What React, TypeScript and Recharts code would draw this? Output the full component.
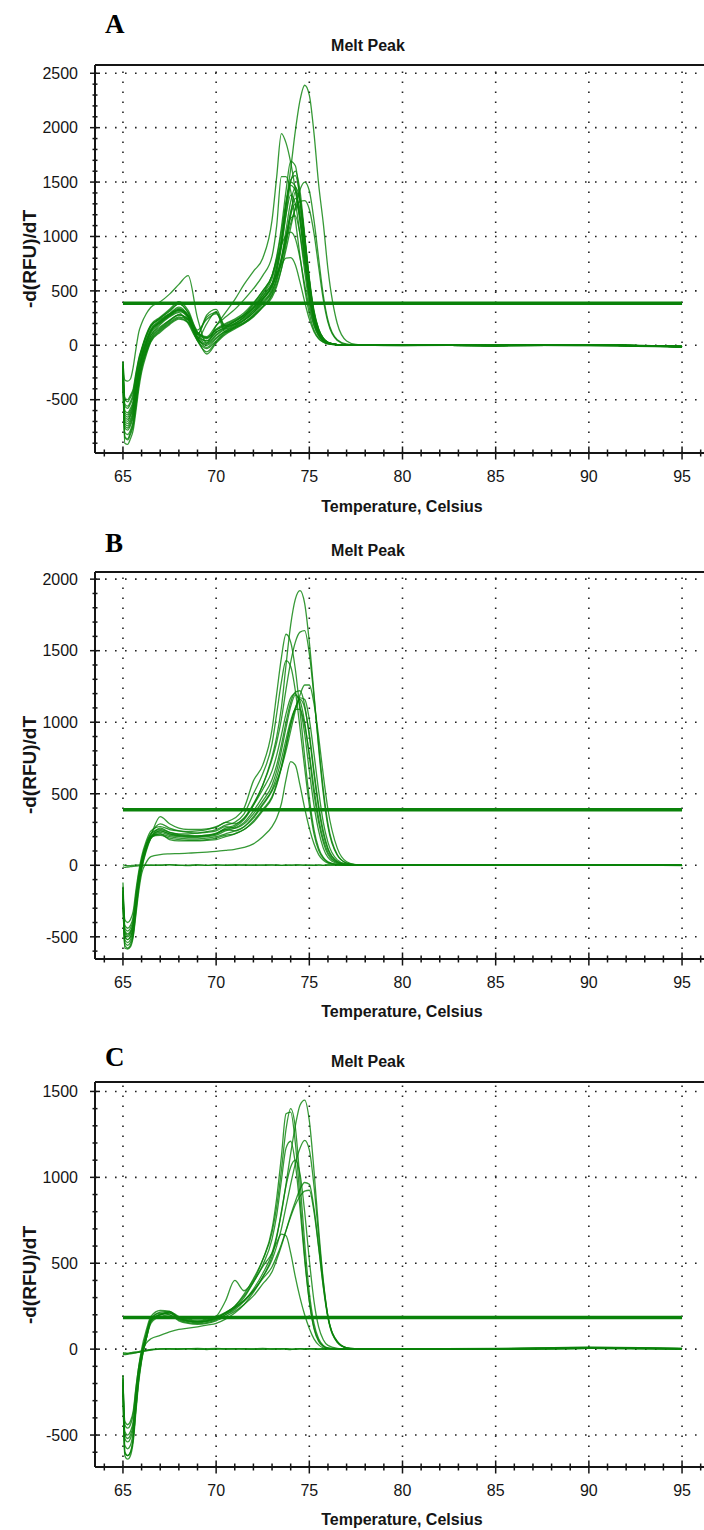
import React from 'react'
import { LineChart, Line, XAxis, YAxis, ReferenceLine } from 'recharts'

// temperature grid (°C) shared by every trace
const temps = [
  65, 65.1, 65.25, 65.4, 65.55, 65.7, 65.85, 66, 66.25, 66.5,
  67, 67.5, 68, 68.5, 69, 69.5, 70, 70.5, 71, 71.5, 72, 72.5,
  73, 73.25, 73.5, 73.75, 74, 74.25, 74.5, 74.75, 75, 75.25, 75.5, 75.75, 76, 76.5, 77, 77.5, 78,
  80, 85, 90, 95,
]

// panel A: -d(RFU)/dT traces
const curvesA = [
  [-150, -320, -330, -310, -200, -30, 120, 200, 290, 350,
    400, 470, 560, 640, 250, 20, 180, 300, 420, 560, 680, 800,
    1150, 1550, 1946, 1860, 1680, 1430, 1140, 800, 460, 240, 110, 50, 22, 6, 2, 0, 1,
    3, -2, 4, -10],
  [-250, -760, -780, -740, -660, -480, -300, -180, -40, 70,
    160, 230, 280, 230, 60, 10, 90, 150, 190, 230, 300, 420,
    560, 720, 930, 1300, 1620, 1970, 2250, 2390, 2300, 1950, 1480, 1120, 700, 200, 40, 8, 2,
    -3, 2, -4, -14],
  [-200, -700, -720, -680, -600, -420, -260, -140, 0, 110,
    200, 270, 320, 270, 100, 40, 120, 170, 220, 280, 370, 480,
    640, 820, 1080, 1420, 1690, 1650, 1330, 900, 520, 260, 120, 55, 25, 6, 2, 0, 0,
    2, -3, 2, -8],
  [-180, -560, -580, -540, -470, -300, -150, -50, 80, 180,
    250, 320, 380, 300, 120, 80, 180, 260, 330, 420, 520, 640,
    820, 1100, 1550, 1550, 1420, 1150, 820, 520, 290, 140, 65, 30, 12, 4, 1, 0, 0,
    1, -2, 3, -12],
  [-280, -850, -870, -820, -740, -560, -360, -220, -70, 40,
    130, 200, 250, 210, 40, -30, 40, 120, 160, 200, 260, 350,
    460, 560, 700, 880, 1080, 1270, 1430, 1500, 1420, 1150, 800, 460, 230, 50, 10, 2, 1,
    -2, 1, -3, -16],
  [-220, -680, -700, -650, -580, -400, -240, -120, 20, 130,
    210, 270, 310, 260, 110, 60, 140, 190, 230, 280, 350, 450,
    560, 650, 780, 950, 1120, 1250, 1320, 1330, 1250, 1030, 720, 420, 210, 45, 8, 2, 0,
    2, -2, 2, -10],
  [-200, -640, -660, -620, -540, -370, -220, -110, 30, 130,
    210, 280, 330, 280, 110, 70, 150, 200, 240, 300, 390, 500,
    640, 780, 920, 1010, 1040, 980, 800, 560, 340, 180, 85, 40, 17, 5, 1, 0, 0,
    1, -2, 2, -12],
  [-160, -500, -520, -480, -420, -270, -130, -40, 90, 180,
    240, 290, 320, 250, 80, 40, 120, 160, 200, 260, 340, 450,
    570, 650, 740, 800, 805, 740, 580, 400, 240, 125, 60, 28, 12, 4, 1, 0, 0,
    2, -1, 3, -8],
  [-260, -800, -820, -780, -700, -520, -330, -190, -50, 60,
    150, 220, 280, 240, 80, 20, 100, 160, 200, 250, 320, 420,
    540, 680, 900, 1200, 1500, 1600, 1420, 1020, 600, 300, 140, 60, 25, 6, 2, 0, 0,
    2, -3, 3, -15],
  [-230, -740, -760, -720, -640, -460, -280, -160, -20, 90,
    190, 260, 300, 200, 60, 200, 310, 150, 190, 240, 320, 430,
    560, 720, 960, 1280, 1500, 1460, 1200, 820, 460, 230, 105, 48, 20, 5, 1, 0, 0,
    1, -2, 2, -12],
  [-190, -600, -620, -580, -510, -340, -190, -80, 50, 150,
    230, 290, 340, 260, 40, -60, 30, 110, 160, 210, 280, 380,
    490, 620, 800, 1060, 1320, 1450, 1330, 980, 600, 310, 150, 65, 28, 7, 2, 0, 0,
    2, -2, 3, -14],
  [-270, -840, -860, -800, -720, -540, -350, -210, -60, 50,
    140, 210, 260, 230, 100, 260, 300, 120, 170, 230, 300, 400,
    520, 680, 920, 1200, 1380, 1300, 1020, 680, 380, 190, 90, 40, 17, 4, 1, 0, 0,
    1, -3, 2, -10],
  [-210, -660, -680, -640, -560, -390, -230, -110, 30, 130,
    220, 290, 350, 270, 60, -80, 20, 100, 150, 200, 270, 360,
    470, 590, 760, 990, 1200, 1300, 1180, 880, 530, 270, 125, 55, 24, 6, 2, 0, 0,
    2, -2, 3, -16],
  [-170, -540, -560, -520, -450, -290, -150, -50, 80, 170,
    250, 310, 380, 300, 100, 280, 330, 170, 200, 260, 350, 470,
    610, 760, 980, 1280, 1520, 1560, 1360, 980, 580, 290, 135, 60, 25, 6, 2, 0, 0,
    2, -2, 2, -12],
  [-240, -720, -740, -700, -620, -440, -270, -150, -10, 90,
    170, 230, 280, 240, 120, 70, 140, 180, 220, 270, 340, 430,
    540, 640, 800, 990, 1170, 1190, 1020, 740, 440, 220, 100, 45, 19, 5, 1, 0, 0,
    2, -3, 2, -10],
  [-300, -900, -910, -860, -780, -600, -400, -250, -90, 30,
    120, 190, 240, 210, 60, 0, 70, 130, 170, 210, 270, 350,
    440, 540, 700, 930, 1200, 1410, 1330, 1000, 620, 320, 150, 65, 28, 7, 2, 0, 0,
    1, -2, 3, -18],
  [-150, -480, -500, -460, -400, -250, -120, -30, 100, 190,
    260, 330, 400, 320, 140, 240, 290, 180, 220, 280, 380, 500,
    640, 800, 1040, 1320, 1470, 1420, 1150, 780, 440, 220, 100, 45, 19, 5, 1, 0, 0,
    2, -1, 2, -8],
  [-220, -620, -640, -600, -530, -360, -210, -100, 40, 140,
    220, 280, 330, 270, 70, -20, 60, 130, 180, 230, 300, 390,
    500, 610, 770, 1000, 1230, 1350, 1250, 930, 560, 290, 135, 60, 26, 6, 2, 0, 0,
    2, -3, 2, -14],
]

// panel B traces (last two are the flat no-template wells)
const curvesB = [
  [-150, -420, -440, -420, -360, -200, -60, 40, 150, 220,
    250, 230, 215, 210, 205, 210, 220, 250, 270, 320, 420, 560,
    760, 900, 1100, 1400, 1680, 1860, 1920, 1830, 1560, 1200, 820, 500, 270, 70, 15, 3, 1,
    2, 0, 3, 0],
  [-200, -520, -540, -520, -450, -280, -120, -10, 120, 200,
    240, 220, 205, 200, 200, 205, 220, 260, 280, 330, 430, 560,
    740, 860, 1020, 1230, 1420, 1560, 1630, 1640, 1480, 1180, 840, 530, 290, 75, 15, 3, 1,
    1, -1, 2, 0],
  [-120, -380, -400, -380, -320, -170, -40, 60, 170, 240,
    270, 250, 240, 235, 240, 250, 270, 300, 330, 400, 590, 700,
    950, 1200, 1450, 1615, 1560, 1370, 1080, 760, 470, 250, 120, 55, 24, 5, 1, 0, 0,
    2, 0, 2, 0],
  [-250, -560, -580, -560, -490, -320, -150, -30, 100, 190,
    260, 230, 220, 220, 225, 235, 250, 280, 300, 360, 500, 640,
    850, 1060, 1280, 1430, 1390, 1220, 960, 680, 420, 220, 105, 48, 20, 5, 1, 0, 0,
    1, -1, 2, 0],
  [-180, -480, -500, -480, -420, -260, -100, 10, 130, 200,
    220, 200, 190, 185, 185, 190, 200, 220, 240, 270, 330, 420,
    520, 590, 680, 800, 940, 1080, 1190, 1260, 1260, 1130, 900, 630, 390, 120, 25, 5, 1,
    2, 0, 2, -2],
  [-220, -500, -520, -500, -440, -280, -120, 0, 120, 190,
    230, 210, 200, 195, 195, 200, 210, 240, 260, 300, 380, 480,
    600, 700, 840, 1000, 1140, 1210, 1220, 1120, 900, 640, 400, 220, 110, 25, 5, 1, 0,
    1, 0, 2, 0],
  [-160, -440, -460, -440, -380, -220, -80, 30, 150, 220,
    290, 260, 240, 230, 225, 230, 240, 270, 260, 290, 360, 450,
    560, 660, 800, 960, 1110, 1190, 1150, 1000, 760, 500, 300, 160, 75, 16, 3, 1, 0,
    1, -1, 2, 0],
  [-240, -540, -560, -540, -470, -300, -140, -20, 110, 190,
    220, 180, 170, 170, 170, 175, 180, 200, 220, 250, 310, 390,
    480, 570, 690, 840, 990, 1100, 1160, 1100, 920, 660, 420, 240, 120, 28, 6, 1, 0,
    2, 0, 1, 0],
  [-200, -470, -490, -470, -410, -250, -100, 10, 130, 210,
    340, 290, 260, 250, 250, 255, 265, 300, 290, 330, 420, 530,
    660, 770, 910, 1060, 1170, 1200, 1110, 920, 660, 420, 240, 120, 55, 12, 3, 1, 0,
    1, 0, 2, 0],
  [-230, -580, -585, -570, -500, -340, -180, -60, 20, 60,
    75, 80, 82, 85, 88, 92, 97, 104, 112, 125, 150, 200,
    270, 330, 430, 600, 725, 700, 560, 400, 260, 150, 75, 35, 15, 4, 1, 0, 0,
    1, 0, 1, 0],
  [-170, -460, -480, -460, -400, -240, -90, 20, 140, 200,
    210, 190, 180, 175, 175, 180, 190, 210, 220, 250, 300, 380,
    470, 560, 680, 830, 980, 1100, 1170, 1160, 1020, 780, 520, 300, 160, 38, 8, 2, 0,
    1, 0, 1, 0],
  [-190, -500, -520, -500, -440, -280, -120, 0, 120, 190,
    240, 220, 210, 205, 205, 210, 225, 250, 240, 270, 340, 430,
    530, 620, 740, 880, 1010, 1090, 1090, 980, 780, 540, 330, 180, 90, 20, 4, 1, 0,
    1, -1, 2, 0],
  [-10, -15, -12, -10, -8, -6, -4, -2, 0, 2,
    0, 3, 1, -2, 2, 0, 3, 1, -1, 2, 0, 3,
    1, 2, 0, -1, 2, 1, 3, 0, 2, -1, 1, 0, 2, 1, 0, 2, 1,
    3, 2, 4, 1],
  [5, 0, -3, -2, 0, 1, 2, 3, 1, -1,
    2, 4, 0, 1, 3, -1, 2, 0, 4, 1, 2, 0,
    3, 1, -1, 2, 0, 3, 1, 2, -1, 1, 3, 0, 2, 1, 3, 0, 2,
    1, 4, 2, 3],
]

// panel C traces (last three are flat)
const curvesC = [
  [-180, -560, -580, -560, -480, -300, -150, -40, 80, 170,
    215, 220, 180, 165, 160, 165, 180, 210, 250, 320, 410, 520,
    680, 830, 1040, 1280, 1400, 1290, 980, 620, 330, 150, 60, 22, 8, 2, 0, 0, 0,
    2, 1, 5, 3],
  [-250, -620, -640, -620, -540, -360, -190, -70, 60, 160,
    200, 210, 175, 160, 155, 160, 175, 200, 230, 280, 350, 440,
    560, 660, 790, 960, 1140, 1300, 1420, 1450, 1330, 1040, 700, 400, 190, 40, 8, 2, 0,
    1, 2, 6, 2],
  [-150, -480, -500, -480, -420, -260, -120, -20, 90, 180,
    210, 200, 170, 155, 150, 155, 170, 200, 240, 300, 390, 490,
    640, 780, 980, 1170, 1210, 1080, 820, 520, 280, 125, 50, 18, 6, 1, 0, 0, 0,
    1, 0, 4, 2],
  [-200, -520, -540, -520, -460, -290, -140, -30, 80, 170,
    205, 215, 185, 170, 165, 170, 185, 210, 240, 280, 340, 420,
    520, 600, 700, 830, 960, 1080, 1170, 1215, 1160, 950, 660, 390, 190, 45, 8, 2, 0,
    2, 1, 5, 3],
  [-220, -600, -620, -600, -520, -340, -170, -60, 60, 150,
    190, 200, 165, 150, 145, 150, 165, 190, 220, 260, 310, 380,
    450, 520, 600, 690, 780, 860, 930, 970, 960, 820, 600, 370, 190, 45, 8, 2, 0,
    1, 2, 6, 2],
  [-170, -440, -460, -440, -380, -230, -100, 0, 110, 190,
    225, 220, 190, 175, 170, 175, 190, 215, 245, 285, 340, 410,
    480, 540, 610, 690, 770, 840, 890, 920, 925, 800, 590, 360, 180, 40, 7, 1, 0,
    2, 1, 5, 2],
  [-190, -500, -520, -500, -440, -280, -130, -30, 80, 170,
    200, 210, 180, 165, 160, 165, 180, 210, 250, 310, 390, 480,
    560, 620, 670, 660, 560, 420, 300, 200, 120, 60, 25, 8, 3, 1, 0, 0, 0,
    1, 0, 4, 2],
  [-230, -600, -620, -600, -520, -340, -170, -60, 60, 160,
    200, 215, 180, 165, 160, 165, 190, 280, 400, 340, 400, 520,
    700, 880, 1120, 1370, 1380, 1200, 880, 540, 280, 120, 45, 16, 5, 1, 0, 0, 0,
    2, 1, 4, 2],
  [-160, -420, -440, -420, -360, -220, -100, -20, 35, 60,
    80, 100, 115, 122, 130, 140, 150, 175, 210, 260, 330, 420,
    540, 650, 800, 950, 1060, 1100, 1020, 800, 520, 280, 130, 55, 22, 5, 1, 0, 0,
    1, 1, 5, 2],
  [-25, -28, -26, -24, -22, -20, -18, -15, -10, -5,
    0, 2, -1, 3, 1, -2, 2, 0, 3, 1, -1, 2,
    0, 1, 3, 0, -2, 1, 2, 0, 1, 3, 0, 2, 1, -1, 2, 0, 1,
    3, 2, 8, 5],
  [-20, -22, -24, -21, -18, -16, -14, -10, -6, -2,
    2, 0, 3, 1, -1, 2, 4, 1, 0, 3, 2, -1,
    2, 0, 1, 3, 1, -1, 2, 1, 3, 0, 2, -1, 1, 3, 0, 2, 1,
    2, 4, 10, 3],
  [-30, -32, -30, -27, -24, -21, -18, -14, -8, -3,
    1, 3, 0, 2, 4, 1, -1, 3, 2, 0, 1, 4,
    1, 3, 0, 2, -1, 1, 3, 0, 2, 1, -1, 3, 0, 2, 1, 0, 2,
    1, 3, 12, 4],
]

const thresholds = { A: 387, B: 389, C: 184 }
const xMajor = [65, 70, 75, 80, 85, 90, 95]
const yMajorA = [-500, 0, 500, 1000, 1500, 2000, 2500]
const yMajorB = [-500, 0, 500, 1000, 1500, 2000]
const yMajorC = [-500, 0, 500, 1000, 1500]

const range = (a: number, b: number, step: number) => {
  const out: number[] = []
  for (let v = a; v <= b + 1e-9; v += step) out.push(Math.round(v * 100) / 100)
  return out
}
const xTicks = range(64, 96, 1)

const GREEN = '#0a820a'
const INK = '#151515'
const SANS = "'Liberation Sans', Arial, sans-serif"
const X_DOMAIN: [number, number] = [63.5, 96.5]

// eslint-disable-next-line @typescript-eslint/no-explicit-any
function YTick({ x, y, payload }: any) {
  const major = payload.value % 500 === 0
  const h = major ? 5 : 2.5
  return (
    <g>
      <line x1={x - h} x2={x + h} y1={y} y2={y} stroke={INK} strokeWidth={1.5} />
      {major && (
        <text x={x - 17} y={y} dy="0.36em" textAnchor="end" fontSize={16} fontFamily={SANS} fill={INK}>
          {payload.value}
        </text>
      )}
    </g>
  )
}

// eslint-disable-next-line @typescript-eslint/no-explicit-any
function XTick({ x, y, payload }: any) {
  const major = payload.value % 5 === 0
  const h = major ? 6.5 : 3.5
  return (
    <g>
      <line x1={x} x2={x} y1={y - h} y2={y + h} stroke={INK} strokeWidth={1.5} />
      {major && (
        <text x={x} y={y + 18} dy="0.71em" textAnchor="middle" fontSize={16} fontFamily={SANS} fill={INK}>
          {payload.value}
        </text>
      )}
    </g>
  )
}

// eslint-disable-next-line @typescript-eslint/no-explicit-any
function TopTick({ x, y, payload }: any) {
  const major = payload.value % 5 === 0
  return <line x1={x} x2={x} y1={y} y2={y + (major ? 6 : 4)} stroke={INK} strokeWidth={1.5} />
}

interface PanelProps {
  top: number
  plotHeight: number
  yDomain: [number, number]
  yMajor: number[]
  threshold: number
  curves: number[][]
}

function MeltPanel({ top, plotHeight, yDomain, yMajor, threshold, curves }: PanelProps) {
  const data = temps.map((t, i) => {
    const row: Record<string, number> = { t, thr: threshold }
    curves.forEach((c, k) => { row[`c${k}`] = c[i] })
    return row
  })
  const yTicks = range(Math.ceil(yDomain[0] / 100) * 100, Math.floor(yDomain[1] / 100) * 100, 100)
  const axisLine = { stroke: INK, strokeWidth: 2 }
  const grid = { stroke: '#222', strokeWidth: 1.6, strokeDasharray: '1.6 8.4' }

  return (
    <div style={{ position: 'absolute', left: 0, top }}>
      <LineChart
        width={740}
        height={45 + 20 + plotHeight + 40}
        data={data}
        margin={{ top: 45, right: 30, left: 40, bottom: 0 }}
      >
        <XAxis
          dataKey="t" type="number" domain={X_DOMAIN} ticks={xTicks} interval={0} allowDataOverflow
          height={40} tickSize={0} tickMargin={0} tickLine={false} axisLine={axisLine}
          tick={(p: any) => <XTick {...p} />}
        />
        <XAxis
          xAxisId="top" orientation="top" type="number" domain={X_DOMAIN} ticks={xTicks} interval={0}
          allowDataOverflow height={20} tickSize={0} tickMargin={0} tickLine={false} axisLine={axisLine}
          tick={(p: any) => <TopTick {...p} />}
        />
        <YAxis
          type="number" domain={yDomain} ticks={yTicks} interval={0} allowDataOverflow width={55}
          tickSize={0} tickMargin={0} tickLine={false} axisLine={axisLine}
          tick={(p: any) => <YTick {...p} />}
        />
        {yMajor.map((v) => <ReferenceLine key={`gy${v}`} y={v} {...grid} />)}
        {xMajor.map((v) => <ReferenceLine key={`gx${v}`} x={v} {...grid} />)}
        {curves.map((_, k) => (
          <Line
            key={k}
            dataKey={`c${k}`}
            type="monotone"
            stroke={GREEN}
            strokeOpacity={0.82}
            strokeWidth={1.3}
            dot={false}
            activeDot={false}
            isAnimationActive={false}
          />
        ))}
        <Line dataKey="thr" type="linear" stroke={GREEN} strokeWidth={3.5} dot={false} activeDot={false} isAnimationActive={false} />
      </LineChart>
    </div>
  )
}

const labels = [
  { letter: 'A', letterY: 33, titleY: 51, xTitleY: 512, yMid: 259 },
  { letter: 'B', letterY: 552, titleY: 556, xTitleY: 1017, yMid: 765 },
  { letter: 'C', letterY: 1066, titleY: 1067, xTitleY: 1525, yMid: 1275 },
]

export default function App() {
  return (
    <div style={{ position: 'absolute', left: 0, top: 0, width: 704, height: 1530, overflow: 'hidden', background: '#fff' }}>
      <MeltPanel top={0} plotHeight={388} yDomain={[-990, 2576]} yMajor={yMajorA} threshold={thresholds.A} curves={curvesA} />
      <MeltPanel top={507} plotHeight={387} yDomain={[-655, 2050]} yMajor={yMajorB} threshold={thresholds.B} curves={curvesB} />
      <MeltPanel top={1017} plotHeight={385} yDomain={[-686, 1555]} yMajor={yMajorC} threshold={thresholds.C} curves={curvesC} />
      <svg width={704} height={1530} style={{ position: 'absolute', left: 0, top: 0, pointerEvents: 'none' }}>
        {labels.map((l) => (
          <g key={l.letter}>
            <text x={105} y={l.letterY} fontSize={27} fontWeight="bold" fontFamily="'Liberation Serif', 'Times New Roman', serif" fill="#000">
              {l.letter}
            </text>
            <text x={368} y={l.titleY} textAnchor="middle" fontSize={16} fontWeight="bold" fontFamily={SANS} fill={INK}>
              Melt Peak
            </text>
            <text x={402} y={l.xTitleY} textAnchor="middle" fontSize={16} fontWeight="bold" fontFamily={SANS} fill={INK}>
              Temperature, Celsius
            </text>
            <text
              x={28.5} y={l.yMid + 7} textAnchor="middle" fontSize={19} fontWeight="bold" fontFamily={SANS} fill={INK}
              transform={`rotate(-90 28.5 ${l.yMid})`}
            >
              -d(RFU)/dT
            </text>
          </g>
        ))}
      </svg>
    </div>
  )
}
